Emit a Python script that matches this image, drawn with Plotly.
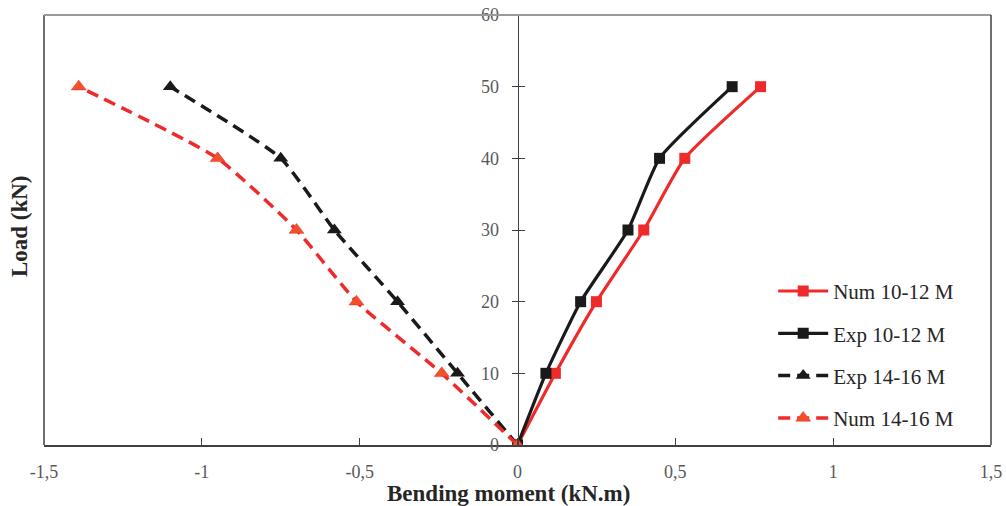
import plotly.graph_objects as go

load = [0, 10, 20, 30, 40, 50]
num_10_12 = [0, 0.12, 0.25, 0.40, 0.53, 0.77]
exp_10_12 = [0, 0.09, 0.20, 0.35, 0.45, 0.68]
exp_14_16 = [0, -0.19, -0.38, -0.58, -0.75, -1.10]
num_14_16 = [0, -0.24, -0.51, -0.70, -0.95, -1.39]
x_ticks = [-1.5, -1, -0.5, 0, 0.5, 1, 1.5]
x_tick_text = ["-1,5", "-1", "-0,5", "0", "0,5", "1", "1,5"]
y_ticks = [0, 10, 20, 30, 40, 50, 60]

FONT = "Liberation Serif"
RED = "#EE2A2A"
BLK = "#1A1A1A"
DASH = "12px,7px"

fig = go.Figure()
fig.add_trace(go.Scatter(x=num_10_12, y=load, name="Num 10-12 M", mode="lines+markers",
                         line=dict(color=RED, width=3.2, shape="spline", smoothing=0.5),
                         marker=dict(symbol="square", size=11, color=RED), legendgroup="a"))
fig.add_trace(go.Scatter(x=exp_10_12, y=load, name="Exp 10-12 M", mode="lines+markers",
                         line=dict(color=BLK, width=3.2, shape="spline", smoothing=0.5),
                         marker=dict(symbol="square", size=11, color=BLK), legendgroup="b"))
fig.add_trace(go.Scatter(x=exp_14_16, y=load, name="Exp 14-16 M", mode="lines+markers",
                         line=dict(color=BLK, width=3.5, dash=DASH, shape="spline", smoothing=0.5),
                         marker=dict(symbol="triangle-up", size=13, color=BLK), legendgroup="c"))
fig.add_trace(go.Scatter(x=num_14_16, y=load, name="Num 14-16 M", mode="lines+markers",
                         line=dict(color=RED, width=3.5, dash=DASH, shape="spline", smoothing=0.5),
                         marker=dict(symbol="triangle-up", size=13, color="#F0502A",
                                     line=dict(color=RED, width=0.5)), legendgroup="d"))

# invisible trace on yaxis2 to create inward ticks (crossing ticks effect)
fig.add_trace(go.Scatter(x=[0], y=[0], yaxis="y2", mode="markers", marker=dict(opacity=0),
                         showlegend=False, hoverinfo="skip"))

fig.update_layout(
    width=1006, height=506,
    margin=dict(l=44, r=15, t=15, b=61, autoexpand=False),
    paper_bgcolor="white", plot_bgcolor="white",
    font=dict(family=FONT, color="#595959", size=18),
    xaxis=dict(range=[-1.5, 1.5], tickvals=x_ticks, ticktext=x_tick_text,
               showgrid=False, zeroline=False, automargin=False,
               showline=True, linecolor="#404040", linewidth=1.5,
               ticks="inside", ticklen=7, tickcolor="#404040",
               ticklabelstandoff=10,
               tickfont=dict(family=FONT, size=18, color="#595959")),
    yaxis=dict(range=[0, 60], tickvals=y_ticks, showgrid=False, zeroline=False, automargin=False,
               anchor="free", position=0.5, showline=True, linecolor="#404040", linewidth=1,
               ticks="outside", ticklen=6, tickcolor="#404040", ticklabelstandoff=9,
               tickfont=dict(family=FONT, size=18, color="#595959")),
    yaxis2=dict(range=[0, 60], tickvals=y_ticks, overlaying="y", anchor="free", position=0.5,
                showticklabels=False, showgrid=False, zeroline=False, showline=False,
                automargin=False, ticks="inside", ticklen=6, tickcolor="#404040"),
    legend=dict(x=0.77, y=0.405, xanchor="left", yanchor="top", bgcolor="rgba(0,0,0,0)",
                font=dict(family=FONT, size=21, color="#262626"), tracegroupgap=12,
                itemwidth=50),
    showlegend=True,
)

# frame lines (left, top, right)
fig.add_shape(type="line", xref="paper", yref="paper", x0=0, x1=0, y0=0, y1=1,
              line=dict(color="#404040", width=1.5))
fig.add_shape(type="line", xref="paper", yref="paper", x0=0, x1=1, y0=1, y1=1,
              line=dict(color="#9A9A9A", width=2))
fig.add_shape(type="line", xref="paper", yref="paper", x0=1, x1=1, y0=0, y1=1,
              line=dict(color="#404040", width=1.5))

fig.add_annotation(text="<b>Bending moment (kN.m)</b>", xref="paper", yref="paper",
                   x=0.49, y=-0.113, xanchor="center", yanchor="middle", showarrow=False,
                   font=dict(family=FONT, size=23, color="#262626"))
fig.add_annotation(text="<b>Load (kN)</b>", xref="paper", yref="paper",
                   x=-0.026, y=0.51, xanchor="center", yanchor="middle", showarrow=False,
                   textangle=-90, font=dict(family=FONT, size=23, color="#262626"))

fig.write_html("out.html", config={"displayModeBar": False},
               post_script="document.body.style.margin='0';document.body.style.overflow='hidden';")
